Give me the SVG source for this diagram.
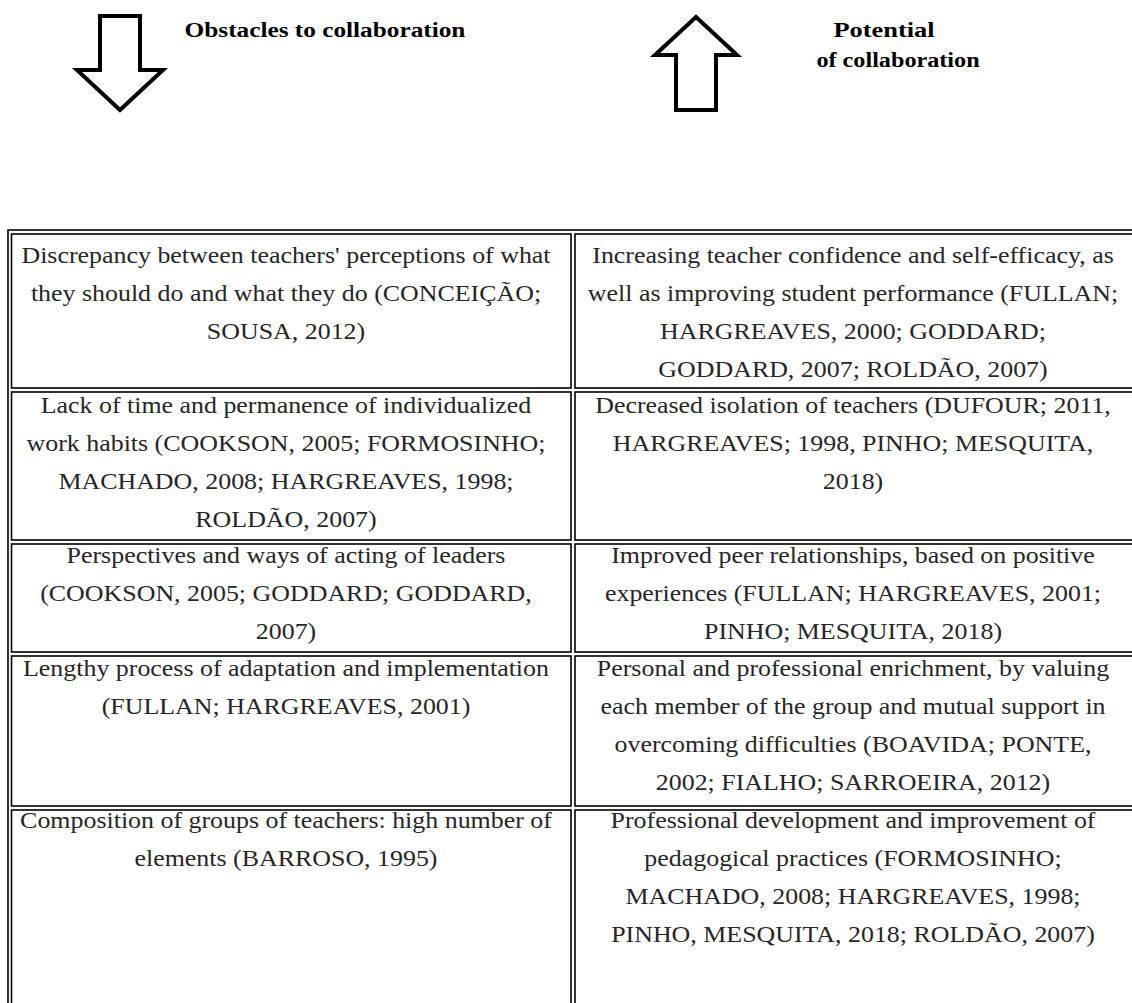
<svg xmlns="http://www.w3.org/2000/svg" width="1132" height="1003" viewBox="0 0 1132 1003">
<style>
.bg{fill:#ffffff}
.cell{fill:none;stroke:#000;stroke-width:1.6}
.arrow{fill:#ffffff;stroke:#000;stroke-width:4;stroke-linejoin:miter}
.title{font-family:"Liberation Serif","Times New Roman",serif;font-weight:bold;font-size:22px;fill:#000;text-anchor:middle}
.t{font-family:"Liberation Serif","Times New Roman",serif;font-size:24px;fill:#262626;text-anchor:middle}
</style>
<rect class="bg" x="0" y="0" width="1132" height="1003"/>
<g id="arrows">
<path class="arrow" d="M100,16 L140,16 L140,70 L163,70 L120,110 L77,70 L100,70 Z"/>
<path class="arrow" d="M696,17 L737,55 L716,55 L716,110 L676,110 L676,55 L655,55 Z"/>
</g>
<g id="title-obstacles" transform="translate(325,0) scale(1.15,1)">
<text class="title" x="0" y="37">Obstacles to collaboration</text>
</g>
<g id="title-potential">
<g transform="translate(884,0) scale(1.2,1)"><text class="title" x="0" y="37">Potential</text></g>
<g transform="translate(898,0) scale(1.1,1)"><text class="title" x="0" y="67">of collaboration</text></g>
</g>
<g id="table-frame">
<rect class="cell" x="8" y="230" width="1140" height="800"/>
</g>
<g id="cell-l1">
<rect class="cell" x="11.5" y="234" width="559.5" height="154"/>
<g transform="translate(286,0) scale(1.08,1)">
<text class="t" x="0" y="263">Discrepancy between teachers' perceptions of what</text>
<text class="t" x="0" y="301">they should do and what they do (CONCEIÇÃO;</text>
<text class="t" x="0" y="339">SOUSA, 2012)</text>
</g>
</g>
<g id="cell-r1">
<rect class="cell" x="575" y="234" width="570" height="154"/>
<g transform="translate(853,0) scale(1.08,1)">
<text class="t" x="0" y="263">Increasing teacher confidence and self-efficacy, as</text>
<text class="t" x="0" y="301">well as improving student performance (FULLAN;</text>
<text class="t" x="0" y="339">HARGREAVES, 2000; GODDARD;</text>
<text class="t" x="0" y="377">GODDARD, 2007; ROLDÃO, 2007)</text>
</g>
</g>
<g id="cell-l2">
<rect class="cell" x="11.5" y="392" width="559.5" height="148"/>
<g transform="translate(286,0) scale(1.08,1)">
<text class="t" x="0" y="413">Lack of time and permanence of individualized</text>
<text class="t" x="0" y="451">work habits (COOKSON, 2005; FORMOSINHO;</text>
<text class="t" x="0" y="489">MACHADO, 2008; HARGREAVES, 1998;</text>
<text class="t" x="0" y="527">ROLDÃO, 2007)</text>
</g>
</g>
<g id="cell-r2">
<rect class="cell" x="575" y="392" width="570" height="148"/>
<g transform="translate(853,0) scale(1.08,1)">
<text class="t" x="0" y="413">Decreased isolation of teachers (DUFOUR; 2011,</text>
<text class="t" x="0" y="451">HARGREAVES; 1998, PINHO; MESQUITA,</text>
<text class="t" x="0" y="489">2018)</text>
</g>
</g>
<g id="cell-l3">
<rect class="cell" x="11.5" y="544" width="559.5" height="108"/>
<g transform="translate(286,0) scale(1.08,1)">
<text class="t" x="0" y="563">Perspectives and ways of acting of leaders</text>
<text class="t" x="0" y="601">(COOKSON, 2005; GODDARD; GODDARD,</text>
<text class="t" x="0" y="639">2007)</text>
</g>
</g>
<g id="cell-r3">
<rect class="cell" x="575" y="544" width="570" height="108"/>
<g transform="translate(853,0) scale(1.08,1)">
<text class="t" x="0" y="563">Improved peer relationships, based on positive</text>
<text class="t" x="0" y="601">experiences (FULLAN; HARGREAVES, 2001;</text>
<text class="t" x="0" y="639">PINHO; MESQUITA, 2018)</text>
</g>
</g>
<g id="cell-l4">
<rect class="cell" x="11.5" y="656" width="559.5" height="150"/>
<g transform="translate(286,0) scale(1.08,1)">
<text class="t" x="0" y="676">Lengthy process of adaptation and implementation</text>
<text class="t" x="0" y="714">(FULLAN; HARGREAVES, 2001)</text>
</g>
</g>
<g id="cell-r4">
<rect class="cell" x="575" y="656" width="570" height="150"/>
<g transform="translate(853,0) scale(1.08,1)">
<text class="t" x="0" y="676">Personal and professional enrichment, by valuing</text>
<text class="t" x="0" y="714">each member of the group and mutual support in</text>
<text class="t" x="0" y="752">overcoming difficulties (BOAVIDA; PONTE,</text>
<text class="t" x="0" y="790">2002; FIALHO; SARROEIRA, 2012)</text>
</g>
</g>
<g id="cell-l5">
<rect class="cell" x="11.5" y="810" width="559.5" height="220"/>
<g transform="translate(286,0) scale(1.08,1)">
<text class="t" x="0" y="828">Composition of groups of teachers: high number of</text>
<text class="t" x="0" y="866">elements (BARROSO, 1995)</text>
</g>
</g>
<g id="cell-r5">
<rect class="cell" x="575" y="810" width="570" height="220"/>
<g transform="translate(853,0) scale(1.08,1)">
<text class="t" x="0" y="828">Professional development and improvement of</text>
<text class="t" x="0" y="866">pedagogical practices (FORMOSINHO;</text>
<text class="t" x="0" y="904">MACHADO, 2008; HARGREAVES, 1998;</text>
<text class="t" x="0" y="942">PINHO, MESQUITA, 2018; ROLDÃO, 2007)</text>
</g>
</g>
</svg>
